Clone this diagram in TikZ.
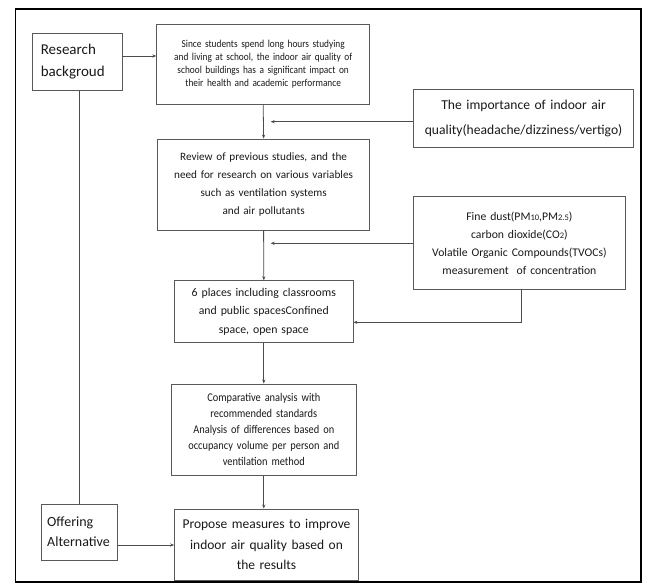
\documentclass[tikz,border=0pt]{standalone}
\usepackage{fontspec}
\setmainfont{Carlito}
\newfontfamily\cndfont[FakeStretch=0.88]{Carlito}
\usetikzlibrary{arrows.meta}
\tikzset{
  box/.style={draw=black!65, line width=0.8pt, align=center, inner sep=2pt, text=black!90},
  conn/.style={draw=black!70, line width=0.8pt},
  arr/.style={conn, -{Stealth[length=4pt,width=3.2pt]}},
}
\begin{document}
\begin{tikzpicture}[x=1pt,y=-1pt]
\useasboundingbox (0,0) rectangle (655,584);
\draw[line width=1.6pt] (15.5,9) rectangle (641,582);

\node[box, minimum width=89.4pt, minimum height=57.4pt, text width=73pt, align=left,
  font=\fontsize{15}{22}\selectfont] (rb) at (77.3,62) {Research\\backgroud};
\node[box, minimum width=213pt, minimum height=80.3pt, text width=205pt,
  font=\cndfont\fontsize{10.6}{13}\selectfont] (b1) at (263.2,64.2)
  {Since students spend long hours studying\\and living at school, the indoor air quality of\\school buildings has a significant impact on\\their health and academic performance};
\node[box, minimum width=220pt, minimum height=58.4pt, text width=212pt,
  font=\fontsize{13.6}{25}\selectfont] (imp) at (523.6,118.5)
  {The importance of indoor air\\quality(headache/dizziness/vertigo)};
\node[box, minimum width=212pt, minimum height=91pt, text width=205pt,
  font=\fontsize{11.2}{18}\selectfont] (b2) at (263.6,184.5)
  {Review of previous studies, and the\\need for research on various variables\\such as ventilation systems\\and air pollutants};
\node[box, minimum width=212pt, minimum height=92.3pt, text width=205pt,
  font=\fontsize{11.7}{18}\selectfont] (fd) at (519.4,242.9)
  {Fine dust(PM{\fontsize{8.5}{9}\selectfont 10},PM{\fontsize{8.5}{9}\selectfont 2.5})\\carbon dioxide(CO{\fontsize{8.5}{9}\selectfont 2})\\Volatile Organic Compounds(TVOCs)\\measurement~ of concentration};
\node[box, minimum width=178.4pt, minimum height=62pt, text width=172pt,
  font=\fontsize{11.8}{18.5}\selectfont] (b3) at (263.8,311.7)
  {6 places including classrooms\\and public spacesConfined\\space, open space};
\node[box, minimum width=185pt, minimum height=91.7pt, text width=180pt,
  font=\cndfont\fontsize{11.8}{16}\selectfont] (b4) at (263.8,429.8)
  {Comparative analysis with\\recommended standards\\Analysis of differences based on\\occupancy volume per person and\\ventilation method};
\node[box, minimum width=183.8pt, minimum height=71.7pt, text width=180pt,
  font=\fontsize{13.5}{20.5}\selectfont] (b5) at (266.5,544.8)
  {Propose measures to improve\\indoor air quality based on\\the results};
\node[box, minimum width=76.4pt, minimum height=56pt, text width=64pt, align=left,
  font=\fontsize{14}{20}\selectfont] (oa) at (79.2,532) {Offering\\Alternative};

\coordinate (m1) at (270.7,121.7);
\coordinate (m2) at (270.7,243.3);
\coordinate (c3) at (521.3,322.3);

\draw[arr] (rb.east |- 0,56) -- (b1.west |- 0,56);
\draw[arr] (b1.south) -- (b2.north);
\draw[arr] (imp.west |- m1) -- (m1);
\draw[arr] (b2.south) -- (b3.north);
\draw[arr] (fd.west |- m2) -- (m2);
\draw[arr] (c3 |- fd.south) -- (c3) -- (b3.east |- c3);
\draw[arr] (b3.south) -- (b4.north);
\draw[arr] (b4.south) -- (b4.south |- b5.north);
\draw[conn] (rb.south -| oa.north) -- (oa.north);
\draw[arr] (oa.east |- 0,545) -- (b5.west |- 0,545);
\end{tikzpicture}
\end{document}
